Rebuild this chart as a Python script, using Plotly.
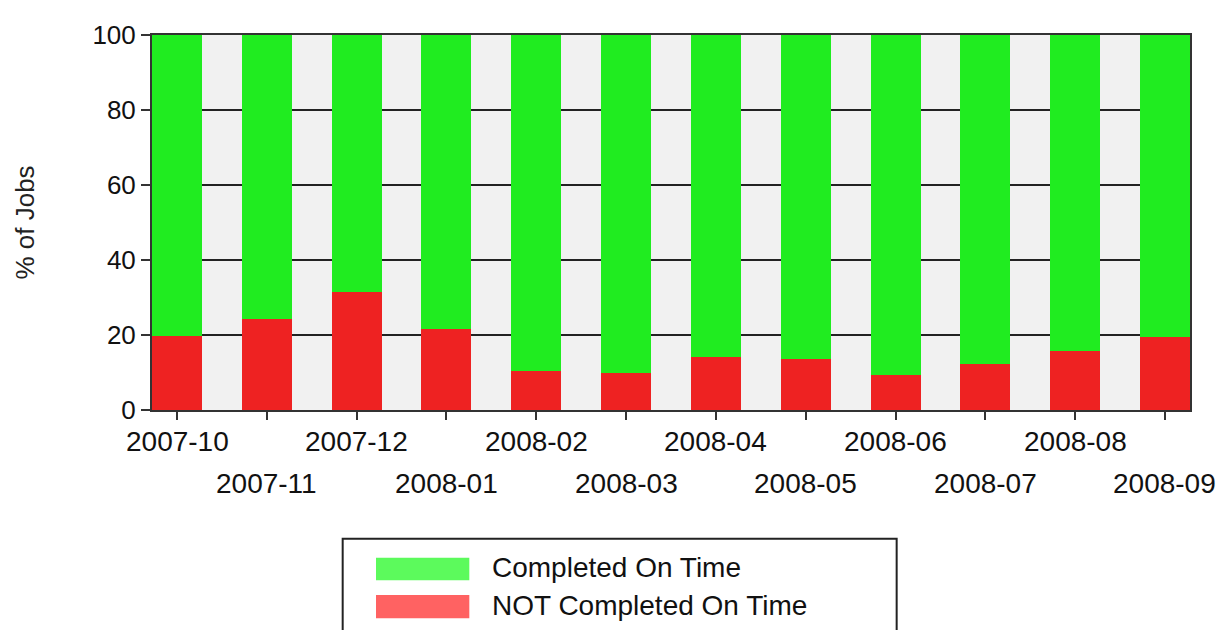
import plotly.graph_objects as go

months = ["2007-10", "2007-11", "2007-12", "2008-01", "2008-02", "2008-03",
          "2008-04", "2008-05", "2008-06", "2008-07", "2008-08", "2008-09"]
not_on_time = [19.8, 24.3, 31.4, 21.5, 10.4, 9.8, 14.1, 13.5, 9.4, 12.2, 15.7, 19.4]
on_time = [round(100 - v, 1) for v in not_on_time]

series_names = ["Completed On Time", "NOT Completed On Time"]
bar_colors = ["#20ec20", "#ee2222"]
legend_colors = ["#5cfa5c", "#ff6262"]
y_ticks = [0, 20, 40, 60, 80, 100]

FONT = "Liberation Sans, Arial, sans-serif"

fig = go.Figure()
fig.add_trace(go.Bar(x=months, y=not_on_time, name=series_names[1],
                     marker=dict(color=bar_colors[1], line=dict(width=0)),
                     width=0.557, showlegend=False))
fig.add_trace(go.Bar(x=months, y=on_time, name=series_names[0],
                     marker=dict(color=bar_colors[0], line=dict(width=0)),
                     width=0.557, showlegend=False))

annotations = []
for i, m in enumerate(months):
    annotations.append(dict(x=m, xref="x", y=-0.084 if i % 2 == 0 else -0.197,
                            yref="paper", text=m, showarrow=False,
                            xanchor="center", yanchor="middle",
                            font=dict(size=28, color="#111", family=FONT)))

# custom legend (wide swatches)
shapes = [dict(type="rect", xref="paper", yref="paper", x0=0.1837, x1=0.7174,
               y0=-0.343, y1=-0.75, line=dict(color="#222", width=2),
               fillcolor="white", layer="above")]
sw_y = [(-0.394, -0.454), (-0.4934, -0.5556)]
txt_y = [-0.421, -0.521]
for k in range(2):
    shapes.append(dict(type="rect", xref="paper", yref="paper", x0=0.2158, x1=0.3057,
                       y0=sw_y[k][0], y1=sw_y[k][1], line=dict(width=0),
                       fillcolor=legend_colors[k], layer="above"))
    annotations.append(dict(x=0.3256, xref="paper", y=txt_y[k], yref="paper",
                            text=series_names[k], showarrow=False,
                            xanchor="left", yanchor="middle",
                            font=dict(size=28, color="#111", family=FONT)))

fig.update_layout(
    width=1225, height=630,
    margin=dict(l=144, r=43, t=21, b=228),
    barmode="stack",
    paper_bgcolor="white",
    plot_bgcolor="#f1f1f1",
    font=dict(family=FONT, size=27, color="#111"),
    shapes=shapes,
    annotations=annotations,
)
fig.update_xaxes(type="category", range=[-0.2785, 11.2785],
                 tickmode="array", tickvals=months, showticklabels=False,
                 ticks="outside", ticklen=8, tickwidth=2, tickcolor="#333",
                 showline=True, linecolor="#333", linewidth=2, mirror=True,
                 showgrid=False)
fig.update_yaxes(range=[0, 100], tickvals=y_ticks,
                 ticks="outside", ticklen=9, tickwidth=2, tickcolor="#333",
                 showline=True, linecolor="#333", linewidth=2, mirror=True,
                 showgrid=True, gridcolor="#222", gridwidth=2, zeroline=False,
                 tickfont=dict(size=26, family=FONT, color="#111"),
                 title=dict(text="% of Jobs", standoff=50,
                            font=dict(size=26, family=FONT, color="#222")))

fig.write_html("out.html")
